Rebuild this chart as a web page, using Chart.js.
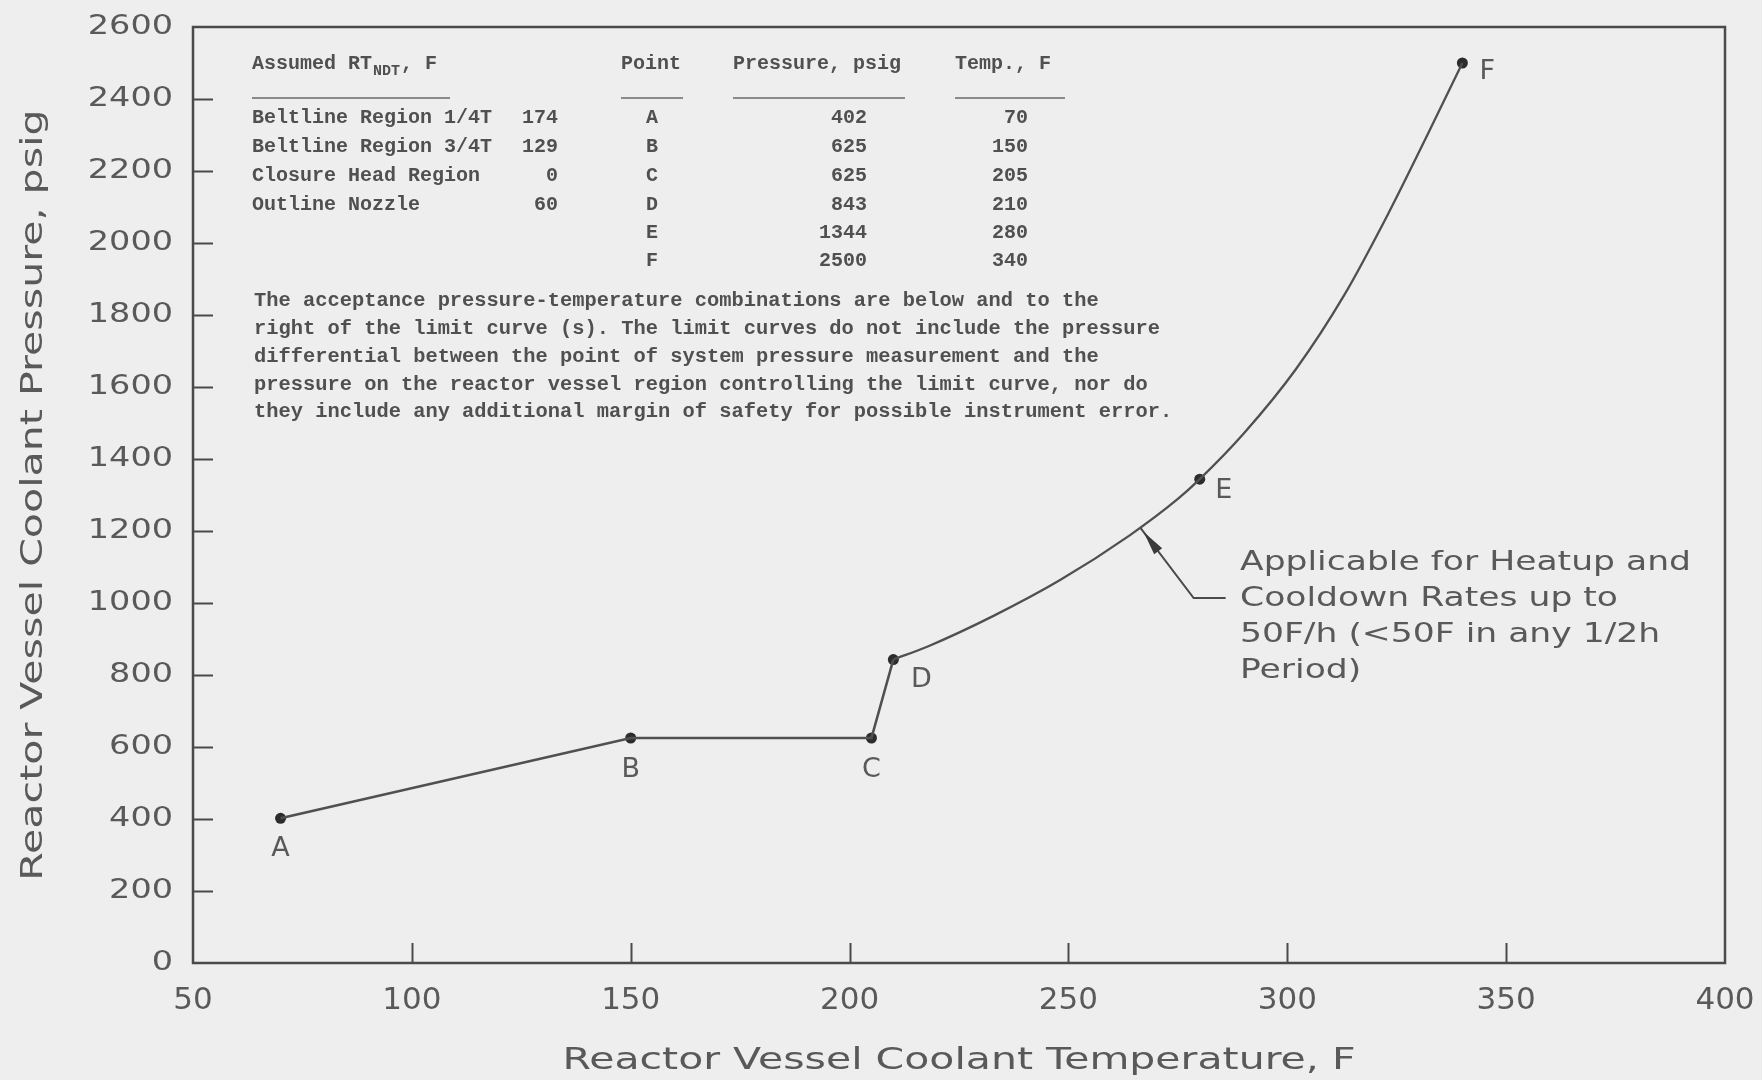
<!DOCTYPE html>
<html>
<head>
<meta charset="utf-8">
<title>Reactor Vessel Pressure-Temperature Limit Curve</title>
<script src="https://cdn.jsdelivr.net/npm/chart.js@4.4.1/dist/chart.umd.min.js"></script>
<style>
  html, body { margin: 0; padding: 0; background: #eeeeee; }
  #wrap { width: 1762px; height: 1080px; position: relative; }
  canvas { display: block; }
</style>
</head>
<body>
<div id="wrap"><canvas id="ptChart" width="1762" height="1080"></canvas></div>
<script>
// ---- Data -------------------------------------------------------------
// Assumed RT_NDT by region (F)
const regionNames = ['Beltline Region 1/4T', 'Beltline Region 3/4T', 'Closure Head Region', 'Outline Nozzle'];
const regionRtndt = [174, 129, 0, 60];

// Limit-curve break points
const pointNames = ['A', 'B', 'C', 'D', 'E', 'F'];
const pointPressures = [402, 625, 625, 843, 1344, 2500];   // psig
const pointTemps = [70, 150, 205, 210, 280, 340];          // F

// Smooth upper branch of the limit curve, D through F
const curveTemps = [210, 218, 233, 248, 264, 275, 280, 290, 302, 313, 323, 332, 340];
const curvePressures = [843, 880, 965, 1063, 1188, 1289, 1344, 1470, 1650, 1855, 2080, 2300, 2500];

// Axis ticks
const xTicks = [50, 100, 150, 200, 250, 300, 350, 400];
const yTicks = [0, 200, 400, 600, 800, 1000, 1200, 1400, 1600, 1800, 2000, 2200, 2400, 2600];

const noteLines = [
  'The acceptance pressure-temperature combinations are below and to the',
  'right of the limit curve (s). The limit curves do not include the pressure',
  'differential between the point of system pressure measurement and the',
  'pressure on the reactor vessel region controlling the limit curve, nor do',
  'they include any additional margin of safety for possible instrument error.'
];

const curveNoteLines = [
  'Applicable for Heatup and',
  'Cooldown Rates up to',
  '50F/h (<50F in any 1/2h',
  'Period)'
];

// ---- Linear scale with horizontally widened label and title lettering --
class WideLinearScale extends Chart.LinearScale {
  drawLabels(area) {
    const sx = this.options.ticks.stretch || 1;
    const ctx = this.ctx;
    const items = this.getLabelItems(area);
    for (const item of items) {
      const o = item.options;
      ctx.save();
      ctx.translate(o.translation[0], o.translation[1]);
      if (o.rotation) ctx.rotate(o.rotation);
      ctx.scale(sx, 1);
      ctx.font = item.font.string;
      ctx.fillStyle = o.color;
      ctx.textAlign = o.textAlign;
      ctx.textBaseline = o.textBaseline;
      ctx.fillText(String(item.label), 0, item.textOffset);
      ctx.restore();
    }
  }
  drawTitle() {
    const t = this.options.title;
    const s = t.stretch || 1;
    if (!t.display || s === 1) { super.drawTitle(); return; }
    const lh = (t.font && t.font.size ? t.font.size : 12) * 1.2;
    const pad = t.padding || {};
    const ctx = this.ctx;
    ctx.save();
    let cx, cy;
    if (this.isHorizontal()) {
      cx = (this.left + this.right) / 2;
      cy = this.bottom - lh / 2 - (pad.bottom || 0);
      ctx.translate(cx, cy); ctx.scale(s, 1); ctx.translate(-cx, -cy);
    } else {
      cx = this.left + lh / 2 + (pad.top || 0);
      cy = (this.top + this.bottom) / 2;
      ctx.translate(cx, cy); ctx.scale(1, s); ctx.translate(-cx, -cy);
    }
    super.drawTitle();
    ctx.restore();
  }
}
WideLinearScale.id = 'wideLinear';
WideLinearScale.defaults = Chart.LinearScale.defaults;
Chart.register(WideLinearScale);

const INK = '#4a4a4a';
const TEXT = '#595959';
const SANS = '"DejaVu Sans", sans-serif';
const MONO = '"Liberation Mono", "DejaVu Sans Mono", monospace';

// ---- Overlay: frame, inward ticks, data table, notes, point labels ----
const overlay = {
  id: 'overlay',
  beforeDraw(chart) {
    const ctx = chart.ctx;
    ctx.save();
    ctx.fillStyle = '#eeeeee';
    ctx.fillRect(0, 0, chart.width, chart.height);
    ctx.restore();
  },
  afterDatasetsDraw(chart) {
    const ctx = chart.ctx;
    const a = chart.chartArea;
    const xs = chart.scales.x, ys = chart.scales.y;
    ctx.save();

    // frame
    ctx.strokeStyle = INK;
    ctx.lineWidth = 2.5;
    ctx.strokeRect(a.left, a.top, a.right - a.left, a.bottom - a.top);

    // inward tick marks
    ctx.lineWidth = 2;
    ctx.beginPath();
    ys.ticks.forEach(t => {
      if (t.value <= ys.min || t.value >= ys.max) return;
      const py = Math.round(ys.getPixelForValue(t.value)) + 0.5;
      ctx.moveTo(a.left, py); ctx.lineTo(a.left + 20, py);
    });
    xs.ticks.forEach(t => {
      if (t.value <= xs.min || t.value >= xs.max) return;
      const px = Math.round(xs.getPixelForValue(t.value)) + 0.5;
      ctx.moveTo(px, a.bottom); ctx.lineTo(px, a.bottom - 20);
    });
    ctx.stroke();

    // point letters
    const offs = { A: [0, 31], B: [0, 32], C: [0, 32], D: [28, 20], E: [24, 12], F: [25, 9] };
    ctx.fillStyle = TEXT;
    ctx.font = '27px ' + SANS;
    ctx.textAlign = 'center';
    ctx.textBaseline = 'middle';
    pointNames.forEach((n, i) => {
      const px = xs.getPixelForValue(pointTemps[i]);
      const py = ys.getPixelForValue(pointPressures[i]);
      ctx.fillText(n, px + offs[n][0], py + offs[n][1]);
    });

    // data table
    ctx.fillStyle = '#505050';
    const tf = 'bold 20px ' + MONO;
    ctx.font = tf;
    ctx.textBaseline = 'middle';
    ctx.textAlign = 'left';
    const hy = 64;
    ctx.fillText('Assumed RT', 252, hy);
    const w1 = ctx.measureText('Assumed RT').width;
    ctx.font = 'bold 15px ' + MONO;
    ctx.fillText('NDT', 252 + w1 + 1, hy + 7);
    const w2 = ctx.measureText('NDT').width;
    ctx.font = tf;
    ctx.fillText(', F', 252 + w1 + w2 + 2, hy);
    ctx.fillText('Point', 621, hy);
    ctx.fillText('Pressure, psig', 733, hy);
    ctx.fillText('Temp., F', 955, hy);

    ctx.strokeStyle = '#6a6a6a';
    ctx.lineWidth = 1.5;
    ctx.beginPath();
    [[252, 450], [621, 683], [733, 905], [955, 1065]].forEach(([x0, x1]) => {
      ctx.moveTo(x0, 98); ctx.lineTo(x1, 98);
    });
    ctx.stroke();

    const rowY = [118, 147, 176, 205, 233, 261];
    regionNames.forEach((name, i) => {
      ctx.textAlign = 'left';
      ctx.fillText(name, 252, rowY[i]);
      ctx.textAlign = 'right';
      ctx.fillText(String(regionRtndt[i]), 558, rowY[i]);
    });
    pointNames.forEach((n, i) => {
      ctx.textAlign = 'center';
      ctx.fillText(n, 652, rowY[i]);
      ctx.textAlign = 'right';
      ctx.fillText(String(pointPressures[i]), 867, rowY[i]);
      ctx.fillText(String(pointTemps[i]), 1028, rowY[i]);
    });

    // acceptance note
    ctx.textAlign = 'left';
    const noteY = [301, 329, 357, 385, 412];
    noteLines.forEach((line, i) => {
      ctx.save();
      ctx.translate(254, noteY[i]);
      ctx.scale(1.02, 1);
      ctx.fillText(line, 0, 0);
      ctx.restore();
    });

    // leader from the curve to its note
    const tipX = xs.getPixelForValue(266.5), tipY = ys.getPixelForValue(1208);
    const elbowX = tipX + 53, elbowY = tipY + 70;
    ctx.strokeStyle = INK;
    ctx.lineWidth = 2;
    ctx.beginPath();
    ctx.moveTo(tipX, tipY);
    ctx.lineTo(elbowX, elbowY);
    ctx.lineTo(elbowX + 32, elbowY);
    ctx.stroke();
    const ang = Math.atan2(elbowY - tipY, elbowX - tipX);
    const hx = tipX + Math.cos(ang) * 5, hyy = tipY + Math.sin(ang) * 5;
    const L = 24, W = 5;
    const bx = hx + Math.cos(ang) * L, by = hyy + Math.sin(ang) * L;
    ctx.fillStyle = '#3a3a3a';
    ctx.beginPath();
    ctx.moveTo(hx, hyy);
    ctx.lineTo(bx - Math.sin(ang) * W, by + Math.cos(ang) * W);
    ctx.lineTo(bx + Math.sin(ang) * W, by - Math.cos(ang) * W);
    ctx.closePath();
    ctx.fill();

    ctx.fillStyle = TEXT;
    ctx.font = '27px ' + SANS;
    ctx.textAlign = 'left';
    const cnY = [563, 599, 635, 671];
    curveNoteLines.forEach((line, i) => {
      ctx.save();
      ctx.translate(1240, cnY[i]);
      ctx.scale(1.28, 1);
      ctx.fillText(line, 0, 0);
      ctx.restore();
    });

    ctx.restore();
  }
};

const toXY = (xsArr, ysArr) => xsArr.map((x, i) => ({ x: x, y: ysArr[i] }));

new Chart(document.getElementById('ptChart'), {
  type: 'scatter',
  data: {
    datasets: [
      {
        label: 'Limit curve A-D',
        data: toXY(pointTemps.slice(0, 4), pointPressures.slice(0, 4)),
        showLine: true,
        borderColor: '#505050',
        borderWidth: 2.6,
        pointRadius: 0,
        tension: 0
      },
      {
        label: 'Limit curve D-F',
        data: toXY(curveTemps, curvePressures),
        showLine: true,
        borderColor: '#505050',
        borderWidth: 2.3,
        pointRadius: 0,
        cubicInterpolationMode: 'monotone'
      },
      {
        label: 'Points',
        data: toXY(pointTemps, pointPressures),
        showLine: false,
        pointRadius: 5.5,
        pointBackgroundColor: '#2c2c2c',
        pointBorderColor: '#2c2c2c',
        pointBorderWidth: 0
      }
    ]
  },
  options: {
    responsive: false,
    animation: false,
    events: [],
    layout: { padding: { top: 27, right: 37, left: 0, bottom: 0 } },
    plugins: { legend: { display: false }, tooltip: { enabled: false } },
    scales: {
      x: {
        type: 'wideLinear',
        min: 50, max: 400,
        afterBuildTicks: s => { s.ticks = xTicks.map(v => ({ value: v })); },
        afterFit: s => { s.height = 117; s.paddingLeft = 0; s.paddingRight = 0; },
        grid: { display: false, drawTicks: false },
        border: { display: false },
        ticks: {
          color: TEXT,
          font: { family: SANS, size: 31 },
          padding: 19,
          maxRotation: 0,
          autoSkip: false,
          callback: v => String(v)
        },
        title: {
          display: true,
          text: 'Reactor Vessel Coolant Temperature, F',
          color: TEXT,
          font: { family: SANS, size: 30 },
          stretch: 1.367,
          padding: { top: 0, bottom: 1 }
        }
      },
      y: {
        type: 'wideLinear',
        min: 0, max: 2600,
        afterBuildTicks: s => { s.ticks = yTicks.map(v => ({ value: v })); },
        afterFit: s => { s.width = 193; s.paddingTop = 0; s.paddingBottom = 0; },
        grid: { display: false, drawTicks: false },
        border: { display: false },
        ticks: {
          color: TEXT,
          font: { family: SANS, size: 27 },
          stretch: 1.24,
          padding: 20,
          autoSkip: false,
          callback: v => String(v)
        },
        title: {
          display: true,
          text: 'Reactor Vessel Coolant Pressure, psig',
          color: TEXT,
          font: { family: SANS, size: 30 },
          stretch: 1.37,
          padding: { top: 16, bottom: 0 }
        }
      }
    }
  },
  plugins: [overlay]
});
</script>
</body>
</html>
